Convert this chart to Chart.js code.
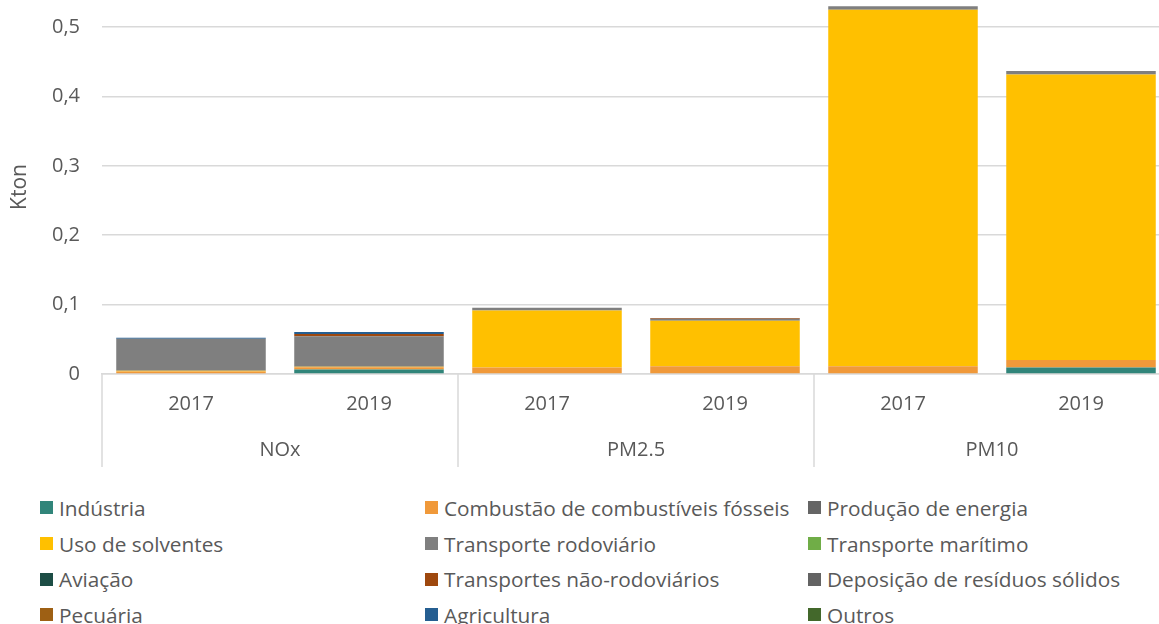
<!DOCTYPE html>
<html lang="pt">
<head>
    <meta charset="UTF-8">
    <meta name="viewport" content="width=device-width, initial-scale=1.0">
    <script src="https://cdn.jsdelivr.net/npm/chart.js"></script>
    <style>
        body {
            margin: 0;
            overflow: hidden;
            background: #fff;
            font-family: 'Open Sans', sans-serif;
        }
        #chartBox {
            position: absolute;
            left: 0;
            top: 0;
            width: 1172px;
            height: 467px;
        }
        #legend {
            position: absolute;
            left: 40px;
            top: 490px;
            display: grid;
            grid-template-columns: 385px 383px 340px;
            grid-auto-rows: 35.7px;
            font-size: 20.8px;
            color: #595959;
        }
        .item {
            display: flex;
            align-items: center;
            white-space: nowrap;
        }
        .swatch {
            width: 13px;
            height: 13px;
            margin-right: 6px;
            flex: none;
        }
    </style>
    <title>Emissões</title>
</head>
<body>
    <div id="chartBox">
        <canvas id="emChart"></canvas>
    </div>
    <div id="legend"></div>
</body>
<script>
    // x axis: year per bar, pollutant groups underneath (2 bars each)
    const years = ['2017', '2019', '2017', '2019', '2017', '2019'];
    const pollutants = ['NOx', 'PM2.5', 'PM10'];

    // kton, order: NOx 2017, NOx 2019, PM2.5 2017, PM2.5 2019, PM10 2017, PM10 2019
    const industria      = [0,      0.0066, 0,      0,      0,     0.0095];
    const combustao      = [0.0035, 0.003,  0.0095, 0.011,  0.011, 0.0107];
    const producao       = [0,      0,      0,      0,      0,     0];
    const solventes      = [0.0013, 0.001,  0.082,  0.0657, 0.514, 0.4115];
    const rodoviario     = [0.0461, 0.0437, 0.004,  0.003,  0.005, 0.005];
    const maritimo       = [0,      0,      0,      0,      0,     0];
    const aviacao        = [0,      0,      0,      0,      0,     0];
    const naoRodoviarios = [0,      0.0034, 0,      0.001,  0,     0];
    const deposicao      = [0,      0,      0,      0,      0,     0];
    const pecuaria       = [0,      0,      0,      0,      0,     0];
    const agricultura    = [0.0015, 0.0029, 0,      0,      0,     0];
    const outros         = [0,      0,      0,      0,      0,     0];

    const yTicks = [0, 0.1, 0.2, 0.3, 0.4, 0.5];

    const series = [
        ['Indústria', industria, '#31857A'],
        ['Combustão de combustíveis fósseis', combustao, '#F0993A'],
        ['Produção de energia', producao, '#656565'],
        ['Uso de solventes', solventes, '#FFC000'],
        ['Transporte rodoviário', rodoviario, '#7F7F7F'],
        ['Transporte marítimo', maritimo, '#70AD47'],
        ['Aviação', aviacao, '#1D4D45'],
        ['Transportes não-rodoviários', naoRodoviarios, '#9E480E'],
        ['Deposição de resíduos sólidos', deposicao, '#636363'],
        ['Pecuária', pecuaria, '#9E6014'],
        ['Agricultura', agricultura, '#255E91'],
        ['Outros', outros, '#43682B']
    ];

    Chart.defaults.font.family = "'Open Sans', sans-serif";
    Chart.defaults.font.size = 20;
    Chart.defaults.color = '#595959';

    // separators between the pollutant groups, through both label rows
    const groupLines = {
        id: 'groupLines',
        afterDraw(chart) {
            let xs = chart.scales.x;
            let gs = chart.scales.x2;
            let ctx = chart.ctx;
            ctx.save();
            ctx.strokeStyle = '#D9D9D9';
            ctx.lineWidth = 1.5;
            for (let i = 0; i <= pollutants.length; i++) {
                let px = xs.getPixelForValue(i * 2 - 0.5);
                ctx.beginPath();
                ctx.moveTo(px, chart.chartArea.bottom);
                ctx.lineTo(px, gs.bottom);
                ctx.stroke();
            }
            ctx.restore();
        }
    };

    const chart = new Chart(document.getElementById('emChart'), {
        type: 'bar',
        data: {
            labels: years,
            datasets: series.map(s => ({
                label: s[0],
                data: s[1],
                backgroundColor: s[2],
                borderWidth: 0,
                barPercentage: 0.84,
                categoryPercentage: 1
            }))
        },
        options: {
            responsive: true,
            maintainAspectRatio: false,
            animation: false,
            layout: { padding: { left: 0, right: 2, top: 0, bottom: 0 } },
            plugins: {
                legend: { display: false },
                tooltip: { enabled: false }
            },
            scales: {
                x: {
                    stacked: true,
                    offset: true,
                    weight: 0,
                    grid: { display: false, drawTicks: false },
                    border: { display: true, color: '#D9D9D9', width: 1.5 },
                    ticks: { padding: 18, maxRotation: 0, autoSkip: false },
                    afterFit: s => { s.height = 42; s.paddingLeft = 0; s.paddingRight = 0; }
                },
                x2: {
                    type: 'category',
                    labels: pollutants,
                    position: 'bottom',
                    offset: true,
                    weight: 1,
                    grid: { display: false, drawTicks: false },
                    border: { display: false },
                    ticks: { padding: 22, maxRotation: 0, autoSkip: false },
                    afterFit: s => { s.height = 51; s.paddingLeft = 0; s.paddingRight = 0; }
                },
                y: {
                    stacked: true,
                    min: 0,
                    max: 0.539,
                    grid: { color: '#D9D9D9', lineWidth: 1.5, drawTicks: false },
                    border: { display: false },
                    afterBuildTicks: s => { s.ticks = yTicks.map(v => ({ value: v })); },
                    ticks: {
                        padding: 22,
                        callback: v => v === 0 ? '0' : v.toFixed(1).replace('.', ',')
                    },
                    title: {
                        display: true,
                        text: 'Kton',
                        font: { size: 21 },
                        padding: { top: 7, bottom: 0 }
                    },
                    afterFit: s => { s.width = 102; s.paddingTop = 0; s.paddingBottom = 0; }
                }
            }
        },
        plugins: [groupLines]
    });

    // legend in three fixed columns, built from the chart's datasets
    const legend = document.getElementById('legend');
    chart.data.datasets.forEach(ds => {
        let item = document.createElement('div');
        item.className = 'item';
        let sw = document.createElement('span');
        sw.className = 'swatch';
        sw.style.background = ds.backgroundColor;
        let txt = document.createElement('span');
        txt.textContent = ds.label;
        item.appendChild(sw);
        item.appendChild(txt);
        legend.appendChild(item);
    });
</script>
</html>
